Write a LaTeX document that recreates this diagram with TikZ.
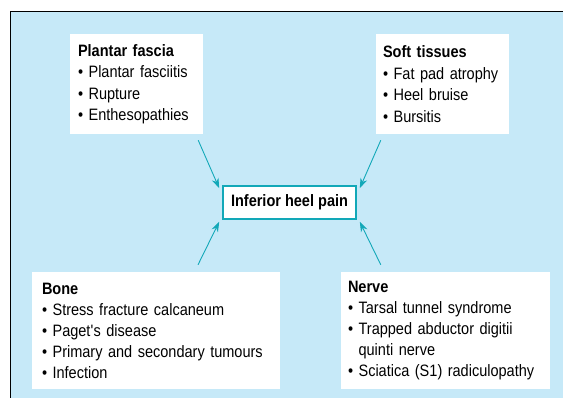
\documentclass[tikz,border=0pt]{standalone}
\usepackage{fontspec}
\setmainfont{Liberation Sans}[FakeStretch=0.88]
\usepackage{tikz}
\usetikzlibrary{positioning, arrows.meta}
\usepackage{xcolor}

\definecolor{panelblue}{RGB}{198,233,248}
\definecolor{arrowteal}{RGB}{18,168,184}

\newcommand{\itm}{\textbullet\ }
\newcommand{\hang}{\hphantom{\textbullet\ }}
\hyphenpenalty=10000

\begin{document}
\begin{tikzpicture}[
    x=1pt, y=1pt,
    causebox/.style={rectangle, fill=white, align=left, inner xsep=10pt, inner ysep=0pt,
        font=\fontsize{16.5}{21.5}\selectfont},
    centrebox/.style={rectangle, fill=white, draw=arrowteal, line width=1.6pt, minimum width=133pt,
        minimum height=33pt, font=\fontsize{16.5}{18}\selectfont\bfseries},
    arrow/.style={-{Stealth[length=10pt, width=7pt]}, arrowteal, line width=0.9pt}
]
    \useasboundingbox (0,0) rectangle (563,398);

    % Background panel
    \fill[panelblue] (10.7,0) rectangle (563,387);
    \draw[line width=0.9pt] (10.7,0) -- (10.7,387) -- (563,387);

    % Centre
    \node[centrebox] (pain) at (289.5,195.5) {Inferior heel pain};

    % Plantar fascia
    \node[causebox, text width=117pt, inner xsep=8pt, minimum height=100pt] (plantar) at (136.5,314)
        {\textbf{Plantar fascia}\\\itm Plantar fasciitis\\\itm Rupture\\\itm Enthesopathies};
    % Soft tissues
    \node[causebox, text width=119pt, inner xsep=7pt, minimum height=100pt] (soft) at (442.5,314)
        {\textbf{Soft tissues}\\\itm Fat pad atrophy\\\itm Heel bruise\\\itm Bursitis};
    % Bone
    \node[causebox, text width=228pt, minimum height=117pt, font=\fontsize{16.5}{21}\selectfont] (bone) at (156,67.5)
        {\textbf{Bone}\\\itm Stress fracture calcaneum\\\itm Paget\textquotesingle s disease\\\itm Primary and secondary tumours\\\itm Infection};
    % Nerve
    \node[causebox, text width=195pt, inner xsep=7pt, minimum height=117pt, font=\fontsize{16.5}{21}\selectfont] (nerve) at (445.5,67.5)
        {\textbf{Nerve}\\\itm Tarsal tunnel syndrome\\\itm Trapped abductor digitii\\\hang quinti nerve\\\itm Sciatica (S1) radiculopathy};

    % Arrows
    \draw[arrow] ([shift={(-5pt,-6pt)}]plantar.south east) -- ([shift={(-3pt,-3pt)}]pain.north west);
    \draw[arrow] ([shift={(5pt,-6pt)}]soft.south west) -- ([shift={(3pt,-3pt)}]pain.north east);
    \draw[arrow] ([shift={(42pt,7pt)}]bone.north) -- ([shift={(-3pt,-2pt)}]pain.south west);
    \draw[arrow] ([shift={(40pt,7pt)}]nerve.north west) -- ([shift={(3pt,-2pt)}]pain.south east);
\end{tikzpicture}
\end{document}
